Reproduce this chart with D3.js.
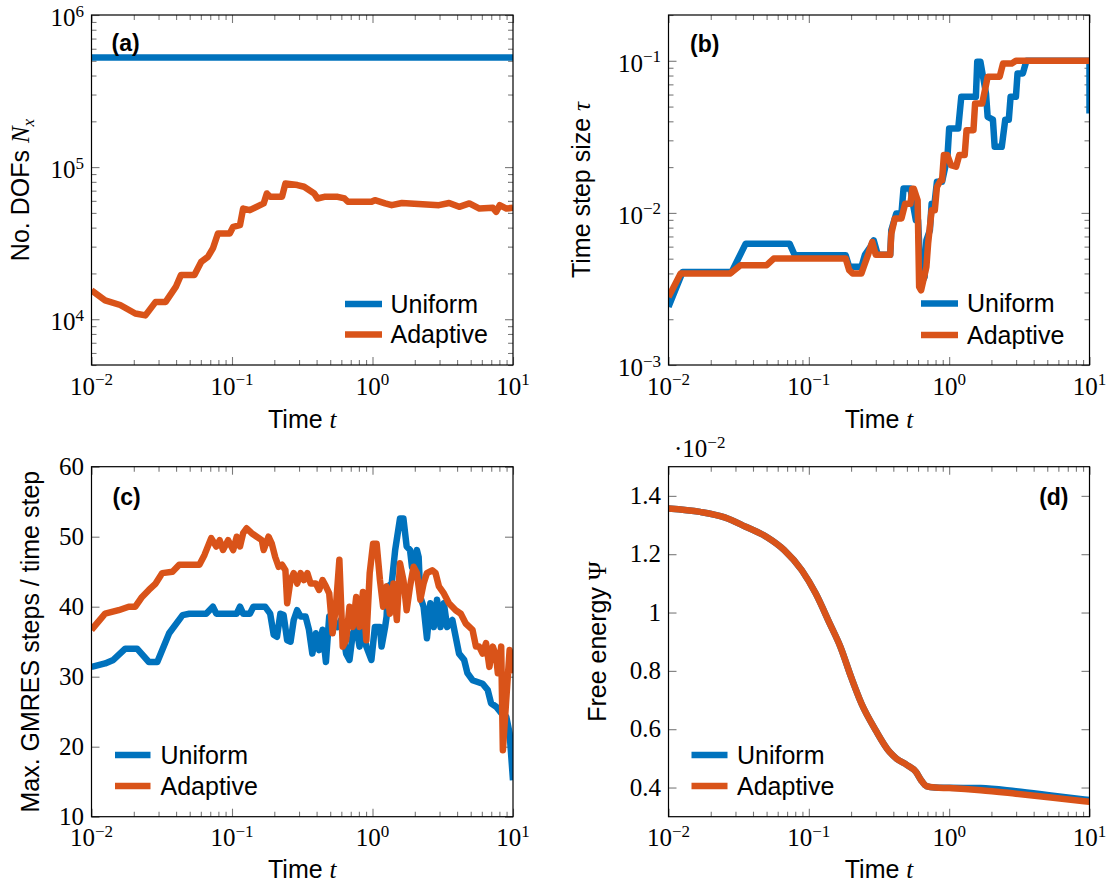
<!DOCTYPE html>
<html>
<head>
<meta charset="utf-8">
<script src="https://cdn.jsdelivr.net/npm/d3@7"></script>
<style>
  body { margin: 0; background: #fff; }
  svg { display: block; }
</style>
</head>
<body>
<svg id="fig" width="1110" height="888"></svg>
<script>
// ---------- data ----------
// (a) number of degrees of freedom
const tNxUniform = [0.01, 10];
const nxUniform = [525000, 525000];
const tNxAdaptive = [0.01, 0.0125, 0.016, 0.0205, 0.0242, 0.0286, 0.0337, 0.0398, 0.0433, 0.054,
  0.0603, 0.0673, 0.0731, 0.0794, 0.0964, 0.102, 0.114, 0.120, 0.134, 0.168,
  0.177, 0.187, 0.227, 0.240, 0.292, 0.326, 0.385, 0.406, 0.454, 0.566,
  0.632, 0.668, 0.984, 1.04, 1.23, 1.37, 1.62, 2.97, 3.51, 4.14,
  4.89, 5.77, 7.19, 7.60, 8.04, 8.98, 10];
const nxAdaptive = [15500, 13300, 12400, 10900, 10600, 13000, 13000, 16300, 19500, 19500,
  23800, 25700, 29200, 36600, 36600, 40500, 41500, 53400, 52100, 57700,
  67100, 63800, 63800, 78100, 76200, 74300, 67100, 62200, 63800, 63800,
  62200, 59200, 59200, 60600, 57700, 56200, 58100, 56200, 58100, 54800,
  57700, 53400, 54000, 50800, 56200, 53400, 54000];

// (b) time step size
const tTauUniform = [0.01, 0.0126, 0.0282, 0.0355, 0.0729, 0.0794, 0.183, 0.194, 0.237, 0.251,
  0.274, 0.29, 0.31, 0.38, 0.387, 0.42, 0.457, 0.473, 0.53, 0.546,
  0.579, 0.6, 0.631, 0.668, 0.688, 0.729, 0.75, 0.786, 0.818, 0.89,
  0.917, 0.972, 1.0, 1.16, 1.22, 1.55, 1.585, 1.67, 1.83, 1.88,
  2.05, 2.11, 2.37, 2.51, 2.66, 2.74, 2.99, 3.07, 3.35, 3.55, 10, 10];
const tauUniform = [0.00241, 0.00409, 0.00409, 0.00628, 0.00628, 0.00527, 0.00527, 0.00442, 0.00442, 0.0053,
  0.00597, 0.0066, 0.0053, 0.0053, 0.0077, 0.0099, 0.0099, 0.01445, 0.01445, 0.0121,
  0.00895, 0.00895, 0.00343, 0.00379, 0.0066, 0.0077, 0.0115, 0.0115, 0.016, 0.016,
  0.0182, 0.0233, 0.0359, 0.0359, 0.058, 0.058, 0.0985, 0.0985, 0.061, 0.0428,
  0.041, 0.0272, 0.0272, 0.041, 0.041, 0.058, 0.058, 0.0826, 0.0826, 0.1, 0.1, 0.045];
const tTauAdaptive = [0.01, 0.0122, 0.0274, 0.0326, 0.0501, 0.0562, 0.183, 0.194, 0.205, 0.237,
  0.251, 0.266, 0.283, 0.3, 0.38, 0.387, 0.41, 0.457, 0.486, 0.53,
  0.546, 0.56, 0.596, 0.611, 0.631, 0.688, 0.708, 0.75, 0.79, 0.818,
  0.87, 0.89, 0.917, 0.97, 1.03, 1.12, 1.18, 1.29, 1.33, 1.49,
  1.53, 1.72, 1.88, 2.29, 2.42, 2.79, 2.99, 10];
const tauAdaptive = [0.0028, 0.00399, 0.00399, 0.00453, 0.00453, 0.00501, 0.00501, 0.0042, 0.004, 0.004,
  0.00465, 0.0054, 0.00644, 0.0053, 0.0053, 0.0073, 0.0092, 0.0092, 0.0115, 0.0115,
  0.0144, 0.0144, 0.0121, 0.00326, 0.0031, 0.0044, 0.0063, 0.0104, 0.0104, 0.0148,
  0.0164, 0.0164, 0.024, 0.024, 0.0206, 0.0201, 0.024, 0.024, 0.035, 0.035,
  0.0524, 0.0524, 0.0785, 0.0785, 0.096, 0.096, 0.1, 0.1];

// (c) maximum GMRES iterations per time step
const tGmresUniform = [0.01, 0.0125, 0.0143, 0.0174, 0.0211, 0.0256, 0.0294, 0.0357, 0.0445, 0.0497,
  0.0655, 0.0731, 0.0773, 0.108, 0.114, 0.120, 0.134, 0.142, 0.172, 0.187,
  0.198, 0.209, 0.221, 0.233, 0.247, 0.261, 0.275, 0.291, 0.308, 0.334,
  0.353, 0.373, 0.395, 0.417, 0.441, 0.466, 0.492, 0.520, 0.565, 0.597,
  0.649, 0.686, 0.724, 0.766, 0.809, 0.855, 0.904, 0.982, 1.04, 1.13,
  1.16, 1.23, 1.26, 1.29, 1.37, 1.45, 1.57, 1.66, 1.75, 1.85,
  1.91, 2.07, 2.13, 2.19, 2.31, 2.44, 2.58, 2.73, 2.88, 3.05,
  3.22, 3.40, 3.70, 4.13, 4.49, 4.74, 5.15, 6.08, 6.61, 6.98,
  7.59, 8.24, 8.95, 9.46, 10];
const gmresUniform = [31.4, 31.9, 32.4, 34.0, 34.0, 32.1, 32.1, 36.2, 38.8, 39.0,
  39.0, 40.0, 39.0, 39.0, 40.0, 39.0, 39.0, 40.0, 40.0, 39.0,
  36.0, 35.7, 39.0, 38.8, 35.2, 35.0, 38.1, 39.5, 38.6, 38.6,
  36.7, 33.3, 36.2, 33.8, 36.7, 32.1, 38.6, 38.1, 37.1, 38.1,
  33.3, 32.4, 36.2, 37.1, 34.3, 37.1, 34.3, 32.4, 37.1, 37.1,
  34.3, 37.1, 38.6, 42.9, 43.3, 48.1, 52.6, 52.6, 48.6, 48.1,
  45.7, 48.1, 47.1, 41.4, 40.0, 35.5, 40.5, 37.1, 41.0, 37.1,
  40.5, 37.1, 38.1, 33.3, 32.4, 30.5, 29.5, 29.0, 28.1, 26.2,
  25.7, 24.8, 24.3, 21.9, 15.2];
const tGmresAdaptive = [0.01, 0.0125, 0.0156, 0.0184, 0.0205, 0.0229, 0.0256, 0.0286, 0.0319, 0.0377,
  0.0421, 0.0586, 0.0637, 0.0711, 0.0773, 0.0817, 0.0863, 0.0938, 0.102, 0.108,
  0.114, 0.120, 0.127, 0.138, 0.150, 0.163, 0.168, 0.182, 0.192, 0.203,
  0.215, 0.227, 0.240, 0.247, 0.261, 0.275, 0.291, 0.308, 0.325, 0.344,
  0.363, 0.395, 0.417, 0.441, 0.466, 0.492, 0.520, 0.549, 0.581, 0.614,
  0.649, 0.686, 0.724, 0.766, 0.809, 0.855, 0.904, 0.955, 1.01, 1.07,
  1.13, 1.19, 1.26, 1.33, 1.41, 1.49, 1.57, 1.66, 1.75, 1.85,
  1.96, 2.07, 2.19, 2.31, 2.44, 2.66, 2.81, 2.97, 3.22, 3.50,
  3.91, 4.25, 4.61, 5.15, 5.45, 5.75, 6.08, 6.43, 6.79, 7.18,
  7.59, 7.80, 8.24, 8.47, 8.95, 9.46, 10];
const gmresAdaptive = [36.7, 39.0, 39.5, 40.0, 40.0, 41.4, 42.4, 43.3, 44.8, 45.0,
  46.0, 46.0, 47.4, 49.8, 48.6, 49.5, 48.1, 49.5, 48.1, 50.0,
  48.6, 50.5, 51.2, 50.5, 50.0, 49.5, 48.1, 50.0, 49.0, 47.1,
  45.7, 46.0, 45.2, 40.5, 43.8, 44.8, 43.3, 44.8, 43.8, 44.8,
  43.3, 43.3, 42.4, 43.8, 42.9, 41.9, 36.2, 40.0, 46.7, 34.3,
  35.2, 40.0, 37.1, 41.4, 37.1, 42.1, 35.2, 44.8, 49.0, 49.0,
  43.8, 40.0, 42.9, 39.0, 43.3, 38.1, 46.2, 43.8, 39.5, 42.9,
  45.7, 44.8, 41.0, 43.3, 44.8, 45.2, 44.8, 42.9, 41.9, 40.5,
  39.5, 39.0, 37.6, 36.7, 34.3, 34.3, 33.3, 34.8, 31.4, 34.3,
  32.9, 30.5, 34.3, 19.5, 26.7, 33.8, 30.5];

// (d) free energy (in units of 1e-2)
const tEnergy = [0.01, 0.0168, 0.0251, 0.0355, 0.0501, 0.0668, 0.0891, 0.112, 0.141, 0.168,
  0.2, 0.237, 0.299, 0.376, 0.422, 0.501, 0.579, 0.631, 0.688, 0.794,
  1.0, 1.68, 2.99, 5.31, 10];
const energyUniform = [1.357, 1.345, 1.326, 1.294, 1.259, 1.214, 1.145, 1.065, 0.962, 0.882,
  0.779, 0.688, 0.597, 0.522, 0.499, 0.477, 0.454, 0.425, 0.405, 0.400,
  0.399, 0.398, 0.387, 0.373, 0.357];
const energyAdaptive = [1.357, 1.345, 1.326, 1.294, 1.259, 1.214, 1.145, 1.065, 0.962, 0.882,
  0.779, 0.688, 0.597, 0.522, 0.499, 0.477, 0.454, 0.425, 0.405, 0.400,
  0.398, 0.391, 0.379, 0.366, 0.351];

const seriesNames = ["Uniform", "Adaptive"];
const colors = ["#0072BD", "#D95319"];
const timeMajor = [0.01, 0.1, 1, 10];

// ---------- drawing ----------
const svg = d3.select("#fig");
const SANS = "'Liberation Sans', Arial, Helvetica, sans-serif";
const SERIF = "'Liberation Serif', 'Times New Roman', serif";
const TICK_COLOR = "#7a7a7a";
let clipId = 0;

function logMinors(lo, hi) {
  const out = [];
  for (let e = Math.floor(Math.log10(lo)); e <= Math.ceil(Math.log10(hi)); e++) {
    for (let k = 2; k <= 9; k++) {
      const v = k * Math.pow(10, e);
      if (v >= lo * 0.9999 && v <= hi * 1.0001) out.push(v);
    }
  }
  return out;
}

// "10" with an exponent as superscript
function powLabel(sel, e, fs) {
  sel.append("tspan").text("10");
  sel.append("tspan").attr("dy", -9.5).attr("font-size", fs * 0.68)
    .text(e < 0 ? "\u2212" + (-e) : String(e));
}

function panel(cfg) {
  const g = svg.append("g");
  const x = d3.scaleLog().domain([0.01, 10]).range([cfg.left, cfg.right]);
  const y = (cfg.ylog ? d3.scaleLog() : d3.scaleLinear()).domain(cfg.ydom).range([cfg.bottom, cfg.top]);

  const id = "clip" + (clipId++);
  g.append("clipPath").attr("id", id).append("rect")
    .attr("x", cfg.left).attr("y", cfg.top)
    .attr("width", cfg.right - cfg.left).attr("height", cfg.bottom - cfg.top);

  // ticks on all four sides, pointing inward
  const addAxis = (axis, tx, ty) => {
    g.append("g").attr("transform", `translate(${tx},${ty})`).call(axis)
      .call(a => a.select(".domain").remove())
      .call(a => a.selectAll("line").attr("stroke", TICK_COLOR).attr("stroke-width", 1.1))
      .call(a => a.selectAll("text").remove());
  };
  const xMinor = logMinors(0.01, 10);
  addAxis(d3.axisBottom(x).tickValues(timeMajor).tickSize(-8), 0, cfg.bottom);
  addAxis(d3.axisBottom(x).tickValues(xMinor).tickSize(-5), 0, cfg.bottom);
  addAxis(d3.axisTop(x).tickValues(timeMajor).tickSize(-8), 0, cfg.top);
  addAxis(d3.axisTop(x).tickValues(xMinor).tickSize(-5), 0, cfg.top);
  addAxis(d3.axisLeft(y).tickValues(cfg.yMajor).tickSize(-8), cfg.left, 0);
  addAxis(d3.axisRight(y).tickValues(cfg.yMajor).tickSize(-8), cfg.right, 0);
  if (cfg.yMinor) {
    addAxis(d3.axisLeft(y).tickValues(cfg.yMinor).tickSize(-5), cfg.left, 0);
    addAxis(d3.axisRight(y).tickValues(cfg.yMinor).tickSize(-5), cfg.right, 0);
  }

  // data lines
  const line = d3.line().x(d => x(d[0])).y(d => y(d[1]));
  if (cfg.smooth) line.curve(d3.curveMonotoneX);
  const lines = g.append("g").attr("clip-path", `url(#${id})`);
  cfg.series.forEach((s, i) => {
    lines.append("path")
      .attr("d", line(d3.zip(s.t, s.v)))
      .attr("fill", "none").attr("stroke", colors[i])
      .attr("stroke-width", 6.5)
      .attr("stroke-linejoin", "round").attr("stroke-linecap", "butt");
  });

  // frame
  g.append("rect").attr("x", cfg.left).attr("y", cfg.top)
    .attr("width", cfg.right - cfg.left).attr("height", cfg.bottom - cfg.top)
    .attr("fill", "none").attr("stroke", "#000").attr("stroke-width", 1.2);

  // x tick labels
  const FS = 25;
  timeMajor.forEach(v => {
    const t = g.append("text").attr("x", x(v)).attr("y", cfg.bottom + 29.5)
      .attr("text-anchor", "middle").attr("font-family", SERIF).attr("font-size", FS);
    powLabel(t, Math.round(Math.log10(v)), FS);
  });
  // y tick labels
  cfg.yMajor.forEach((v, i) => {
    const t = g.append("text").attr("x", cfg.left - 7.5)
      .attr("text-anchor", "end").attr("font-family", SERIF).attr("font-size", FS);
    if (cfg.ylog) {
      t.attr("y", y(v) + 11);
      powLabel(t, Math.round(Math.log10(v)), FS);
    } else {
      t.attr("y", y(v) + 8).text(cfg.yLabels[i]);
    }
  });

  // axis titles
  const xl = g.append("text").attr("x", (cfg.left + cfg.right) / 2).attr("y", cfg.xTitleY)
    .attr("text-anchor", "middle").attr("font-family", SANS).attr("font-size", 25);
  xl.append("tspan").text("Time ");
  xl.append("tspan").attr("font-family", SERIF).attr("font-style", "italic").text("t");

  const yl = g.append("text")
    .attr("transform", `translate(${cfg.yTitleX},${(cfg.top + cfg.bottom) / 2}) rotate(-90)`)
    .attr("text-anchor", "middle").attr("font-family", SANS).attr("font-size", 25);
  cfg.yTitle(yl);

  // panel tag
  g.append("text").attr("x", cfg.tag.x).attr("y", cfg.tag.y)
    .attr("text-anchor", cfg.tag.anchor || "start")
    .attr("font-family", SANS).attr("font-weight", "bold").attr("font-size", 23)
    .text(cfg.tag.text);

  // legend (no frame)
  const L = cfg.legend;
  seriesNames.forEach((name, i) => {
    const ly = L.y[i];
    g.append("line").attr("x1", L.x0).attr("x2", L.x1).attr("y1", ly).attr("y2", ly)
      .attr("stroke", colors[i]).attr("stroke-width", 6.5);
    g.append("text").attr("x", L.tx).attr("y", ly + 8.5)
      .attr("font-family", SANS).attr("font-size", 25).text(name);
  });
  return { x, y, g };
}

// (a)
panel({
  left: 91.5, right: 513, top: 15, bottom: 365,
  ylog: true, ydom: [5000, 1e6], yMajor: [1e4, 1e5, 1e6], yMinor: logMinors(5000, 1e6),
  series: [{ t: tNxUniform, v: nxUniform }, { t: tNxAdaptive, v: nxAdaptive }],
  xTitleY: 428, yTitleX: 29,
  yTitle: s => {
    s.append("tspan").text("No. DOFs ");
    s.append("tspan").attr("font-family", SERIF).attr("font-style", "italic").text("N");
    s.append("tspan").attr("font-family", SERIF).attr("font-style", "italic")
      .attr("font-size", 17).attr("dy", 5).text("x");
  },
  tag: { text: "(a)", x: 111.5, y: 51 },
  legend: { x0: 345, x1: 382, tx: 390.5, y: [304, 334.5] }
});

// (b)
panel({
  left: 668.5, right: 1089.5, top: 15, bottom: 365,
  ylog: true, ydom: [1e-3, 0.2], yMajor: [1e-3, 1e-2, 1e-1], yMinor: logMinors(1e-3, 0.2),
  series: [{ t: tTauUniform, v: tauUniform }, { t: tTauAdaptive, v: tauAdaptive }],
  xTitleY: 428, yTitleX: 590,
  yTitle: s => {
    s.append("tspan").text("Time step size ");
    s.append("tspan").attr("font-family", SERIF).attr("font-style", "italic").text("\u03c4");
  },
  tag: { text: "(b)", x: 690, y: 52 },
  legend: { x0: 921, x1: 958, tx: 967, y: [303.5, 335] }
});

// (c)
panel({
  left: 91.5, right: 513, top: 466.7, bottom: 816.7,
  ylog: false, ydom: [10, 60], yMajor: [10, 20, 30, 40, 50, 60],
  yLabels: ["10", "20", "30", "40", "50", "60"],
  series: [{ t: tGmresUniform, v: gmresUniform }, { t: tGmresAdaptive, v: gmresAdaptive }],
  xTitleY: 878, yTitleX: 38.5,
  yTitle: s => s.text("Max. GMRES steps / time step"),
  tag: { text: "(c)", x: 112.5, y: 505 },
  legend: { x0: 115, x1: 150.5, tx: 160.5, y: [755, 786] }
});

// (d)
const pd = panel({
  left: 668.5, right: 1089.5, top: 466.7, bottom: 816.7,
  ylog: false, ydom: [0.3, 1.5], yMajor: [0.4, 0.6, 0.8, 1.0, 1.2, 1.4],
  yLabels: ["0.4", "0.6", "0.8", "1", "1.2", "1.4"],
  smooth: true,
  series: [{ t: tEnergy, v: energyUniform }, { t: tEnergy, v: energyAdaptive }],
  xTitleY: 878, yTitleX: 606,
  yTitle: s => {
    s.append("tspan").text("Free energy ");
    s.append("tspan").attr("font-family", SERIF).text("\u03a8");
  },
  tag: { text: "(d)", x: 1068.5, y: 505, anchor: "end" },
  legend: { x0: 691.5, x1: 727.5, tx: 737, y: [755, 786] }
});

// common scale factor of panel (d)
const sc = pd.g.append("text").attr("x", 674).attr("y", 457)
  .attr("font-family", SERIF).attr("font-size", 25);
sc.append("tspan").text("\u00b7");
powLabel(sc, -2, 25);
</script>
</body>
</html>
